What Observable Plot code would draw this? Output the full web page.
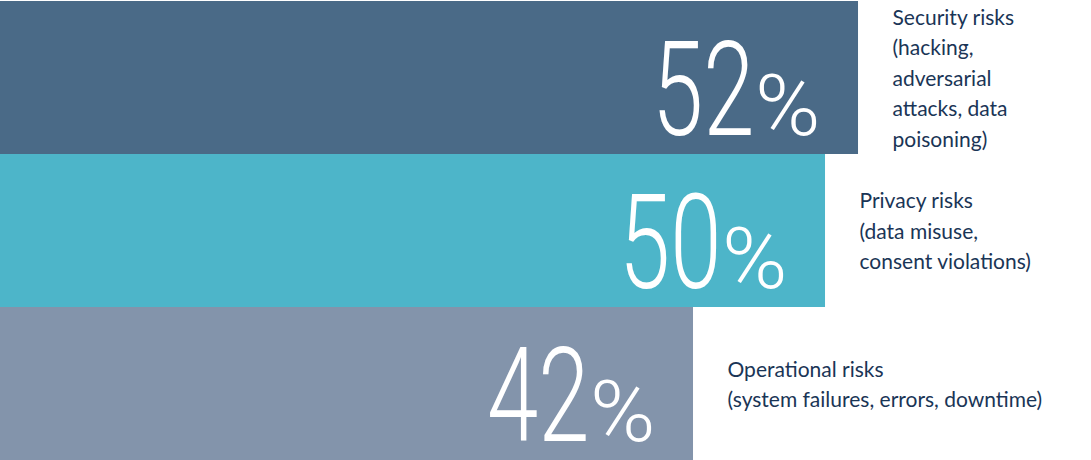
<!DOCTYPE html>
<html>
<head>
<meta charset="utf-8">
<script src="https://cdn.jsdelivr.net/npm/d3@7"></script>
<script src="https://cdn.jsdelivr.net/npm/@observablehq/plot@0.6"></script>
<style>
  html, body { margin: 0; padding: 0; background: #ffffff; }
  #chart { width: 1091px; height: 460px; overflow: hidden; }
</style>
</head>
<body>
<div id="chart"></div>
<script>
const categories = ["Security risks", "Privacy risks", "Operational risks"];
const values = [52, 50, 42];
const descriptions = [
  "Security risks\n(hacking,\nadversarial\nattacks, data\npoisoning)",
  "Privacy risks\n(data misuse,\nconsent violations)",
  "Operational risks\n(system failures, errors, downtime)"
];
const barColors = ["#4a6a87", "#4db5c9", "#8394ab"];
const xMax = 66.12;

const data = categories.map((c, i) => ({category: c, value: values[i], description: descriptions[i]}));

const chart = Plot.plot({
  width: 1091,
  height: 460,
  margin: 0,
  style: {background: "#ffffff"},
  x: {domain: [0, xMax], axis: null},
  y: {domain: categories, padding: 0, axis: null},
  color: {domain: categories, range: barColors},
  marks: [
    Plot.barX(data, {x: "value", y: "category", fill: "category"}),
    Plot.text(data, {
      x: "value", y: "category", text: d => String(d.value),
      textAnchor: "end", lineAnchor: "bottom", dx: -104, dy: 57,
      fontFamily: "Roboto", fontWeight: 300, fontSize: 132, fill: "#ffffff"
    }),
    Plot.text(data, {
      x: "value", y: "category", text: d => "%",
      textAnchor: "end", lineAnchor: "bottom", dx: -38, dy: 57,
      fontFamily: "Roboto", fontWeight: 300, fontSize: 86, fill: "#ffffff"
    }),
    Plot.text(data, {
      x: "value", y: "category", text: "description",
      textAnchor: "start", lineAnchor: "middle", lineHeight: 1.45, dx: 34, dy: -2,
      fontFamily: "Lato", fontSize: 21, fill: "#1a3556"
    })
  ]
});

function condense(group, s) {
  d3.select(group).selectAll("text").each(function() {
    const t = this.getAttribute("transform");
    if (t && /translate/.test(t)) {
      this.setAttribute("transform", t + ` scale(${s},1)`);
    } else {
      const x = +(this.getAttribute("x") || 0);
      const y = +(this.getAttribute("y") || 0);
      this.setAttribute("transform", `translate(${x},${y}) scale(${s},1) translate(${-x},${-y})`);
    }
  });
}
const textGroups = d3.select(chart).selectAll('g[aria-label="text"]').nodes();
if (textGroups.length >= 2) {
  condense(textGroups[0], 0.7);
  condense(textGroups[1], 1.03);
}

document.getElementById("chart").appendChild(chart);
</script>
</body>
</html>
